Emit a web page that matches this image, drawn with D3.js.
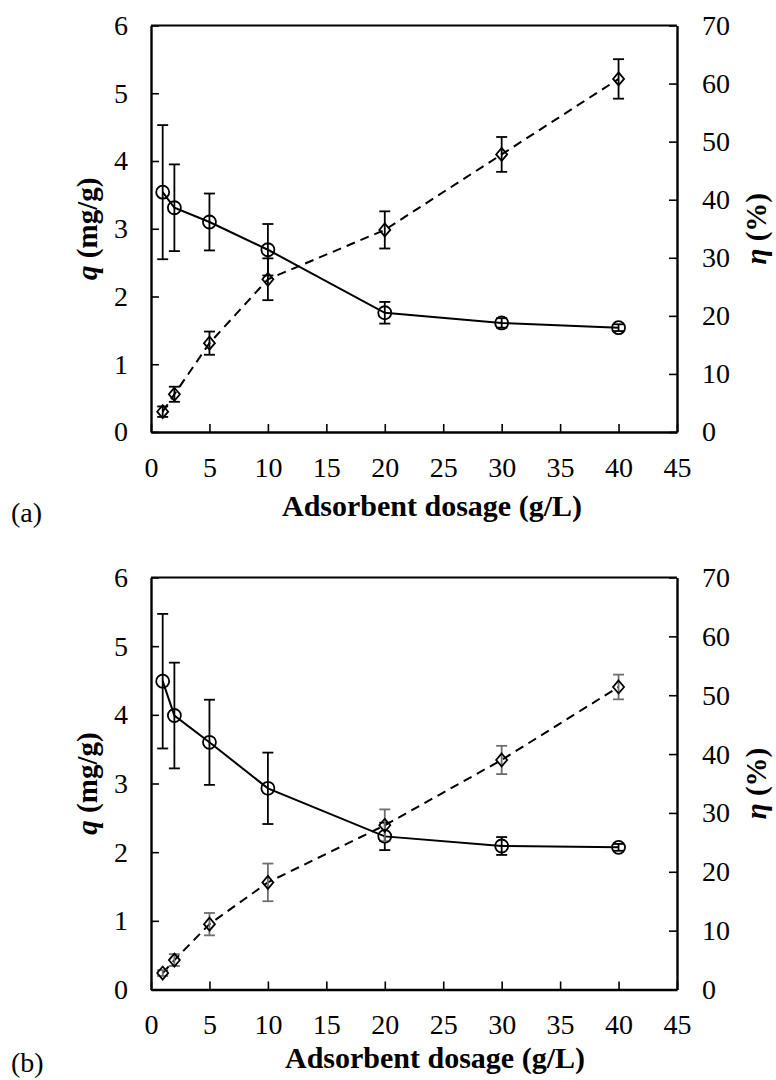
<!DOCTYPE html>
<html>
<head>
<meta charset="utf-8">
<script src="https://cdn.jsdelivr.net/npm/d3@7"></script>
<style>
	body { margin: 0; background: #fff; }
	svg text { font-family: "Liberation Serif", "Times New Roman", Tinos, "DejaVu Serif", serif; fill: #000; }
</style>
</head>
<body>
<svg width="776" height="1080"></svg>
<script>
// dosage (g/L)
const dosage = [1, 2, 5, 10, 20, 30, 40];

// panel (a)
const qA = [3.54, 3.31, 3.10, 2.69, 1.76, 1.61, 1.54];
const qErrA = [0.99, 0.64, 0.42, 0.38, 0.16, 0.07, 0.05];
const etaA = [3.5, 6.5, 15.3, 26.3, 34.8, 47.8, 60.8];
const etaErrA = [0.9, 1.3, 2.0, 3.6, 3.2, 3.0, 3.4];

// panel (b)
const qB = [4.49, 3.99, 3.60, 2.93, 2.23, 2.09, 2.07];
const qErrB = [0.98, 0.77, 0.62, 0.52, 0.20, 0.13, 0.05];
const etaB = [2.8, 5.0, 11.1, 18.2, 27.9, 39.0, 51.4];
const etaErrB = [0.5, 1.0, 1.9, 3.2, 2.7, 2.4, 2.1];

const xTicks = [0, 5, 10, 15, 20, 25, 30, 35, 40, 45];
const qTicks = [0, 1, 2, 3, 4, 5, 6];
const etaTicks = [0, 10, 20, 30, 40, 50, 60, 70];

const svg = d3.select("svg");
const tickSize = 28;
const titleSize = 30;
const serif = '"Liberation Serif", "Times New Roman", Tinos, "DejaVu Serif", serif';

function drawPanel(cfg){
	const left = 151, right = 677;
	let x = d3.scaleLinear().domain([0, 45]).range([left, right]);
	let yq = d3.scaleLinear().domain([0, 6]).range([cfg.bottom, cfg.top]);
	let ye = d3.scaleLinear().domain([0, 70]).range([cfg.bottom, cfg.top]);

	let g = svg.append("g").attr("font-family", serif);

	// top border
	g.append("line")
		.attr("x1", left).attr("x2", right)
		.attr("y1", cfg.top).attr("y2", cfg.top)
		.attr("stroke", "#000").attr("stroke-width", 1.8);

	let fmt = d3.format("d");
	let xAxis = g.append("g")
		.attr("transform", "translate(0," + cfg.bottom + ")")
		.call(d3.axisBottom(x).tickValues(xTicks).tickFormat(fmt).tickSizeInner(-8).tickSizeOuter(0).tickPadding(25));
	let yAxisL = g.append("g")
		.attr("transform", "translate(" + left + ",0)")
		.call(d3.axisLeft(yq).tickValues(qTicks).tickFormat(fmt).tickSizeInner(-8).tickSizeOuter(0).tickPadding(23));
	let yAxisR = g.append("g")
		.attr("transform", "translate(" + right + ",0)")
		.call(d3.axisRight(ye).tickValues(etaTicks).tickFormat(fmt).tickSizeInner(-8).tickSizeOuter(0).tickPadding(25));

	[xAxis, yAxisL, yAxisR].forEach(function(a){
		a.attr("font-family", serif).attr("font-size", tickSize);
		a.select(".domain").attr("stroke", "#000").attr("stroke-width", 2.4);
		a.selectAll(".tick line").attr("stroke", "#000").attr("stroke-width", 1.6);
		a.selectAll(".tick text").attr("fill", "#000");
	});

	let qData = dosage.map(function(d, i){ return {x: d, y: cfg.q[i], e: cfg.qErr[i]}; });
	let eData = dosage.map(function(d, i){ return {x: d, y: cfg.eta[i], e: cfg.etaErr[i]}; });

	// lines
	let qLine = d3.line().x(function(d){ return x(d.x); }).y(function(d){ return yq(d.y); });
	let eLine = d3.line().x(function(d){ return x(d.x); }).y(function(d){ return ye(d.y); });

	g.append("path").datum(eData)
		.attr("d", eLine)
		.attr("fill", "none")
		.attr("stroke", "#000")
		.attr("stroke-width", 2)
		.attr("stroke-dasharray", "9,6");

	g.append("path").datum(qData)
		.attr("d", qLine)
		.attr("fill", "none")
		.attr("stroke", "#000")
		.attr("stroke-width", 2);

	// error bars
	function errorBars(data, y, colour){
		let eb = g.append("g").selectAll("g").data(data).enter().append("g")
			.attr("stroke", colour).attr("stroke-width", 1.8);
		eb.append("line")
			.attr("x1", function(d){ return x(d.x); })
			.attr("x2", function(d){ return x(d.x); })
			.attr("y1", function(d){ return y(d.y - d.e); })
			.attr("y2", function(d){ return y(d.y + d.e); });
		eb.append("line")
			.attr("x1", function(d){ return x(d.x) - 5.5; })
			.attr("x2", function(d){ return x(d.x) + 5.5; })
			.attr("y1", function(d){ return y(d.y + d.e); })
			.attr("y2", function(d){ return y(d.y + d.e); });
		eb.append("line")
			.attr("x1", function(d){ return x(d.x) - 5.5; })
			.attr("x2", function(d){ return x(d.x) + 5.5; })
			.attr("y1", function(d){ return y(d.y - d.e); })
			.attr("y2", function(d){ return y(d.y - d.e); });
	}
	errorBars(qData, yq, "#000");
	errorBars(eData, ye, cfg.etaErrColour);

	// markers
	g.append("g").selectAll("circle").data(qData).enter().append("circle")
		.attr("cx", function(d){ return x(d.x); })
		.attr("cy", function(d){ return yq(d.y); })
		.attr("r", 6.5)
		.attr("fill", "none")
		.attr("stroke", "#000")
		.attr("stroke-width", 1.8);

	g.append("g").selectAll("path").data(eData).enter().append("path")
		.attr("d", "M0,-6.5L5.5,0L0,6.5L-5.5,0Z")
		.attr("transform", function(d){ return "translate(" + x(d.x) + "," + ye(d.y) + ")"; })
		.attr("fill", "none")
		.attr("stroke", "#000")
		.attr("stroke-width", 1.8);

	// axis titles
	g.append("text")
		.attr("x", cfg.xTitleX)
		.attr("y", cfg.xTitleY)
		.attr("text-anchor", "middle")
		.attr("font-size", titleSize)
		.attr("font-weight", "bold")
		.text("Adsorbent dosage (g/L)");

	let midY = (cfg.top + cfg.bottom) / 2;
	let tq = g.append("text")
		.attr("transform", "translate(97," + midY + ") rotate(-90)")
		.attr("text-anchor", "middle")
		.attr("font-size", 29)
		.attr("font-weight", "bold");
	tq.append("tspan").attr("font-style", "italic").text("q");
	tq.append("tspan").text(" (mg/g)");

	let te = g.append("text")
		.attr("transform", "translate(766," + midY + ") rotate(-90)")
		.attr("text-anchor", "middle")
		.attr("font-size", 29)
		.attr("font-weight", "bold");
	te.append("tspan").attr("font-style", "italic").text("η");
	te.append("tspan").text(" (%)");

	g.append("text")
		.attr("x", 11)
		.attr("y", cfg.labelY)
		.attr("font-size", tickSize)
		.text(cfg.label);
}

drawPanel({top: 25.5, bottom: 432, q: qA, qErr: qErrA, eta: etaA, etaErr: etaErrA,
	etaErrColour: "#000", xTitleX: 432, xTitleY: 516, label: "(a)", labelY: 522});
drawPanel({top: 577.5, bottom: 989.5, q: qB, qErr: qErrB, eta: etaB, etaErr: etaErrB,
	etaErrColour: "#6e6e6e", xTitleX: 435, xTitleY: 1068, label: "(b)", labelY: 1072});
</script>
</body>
</html>
